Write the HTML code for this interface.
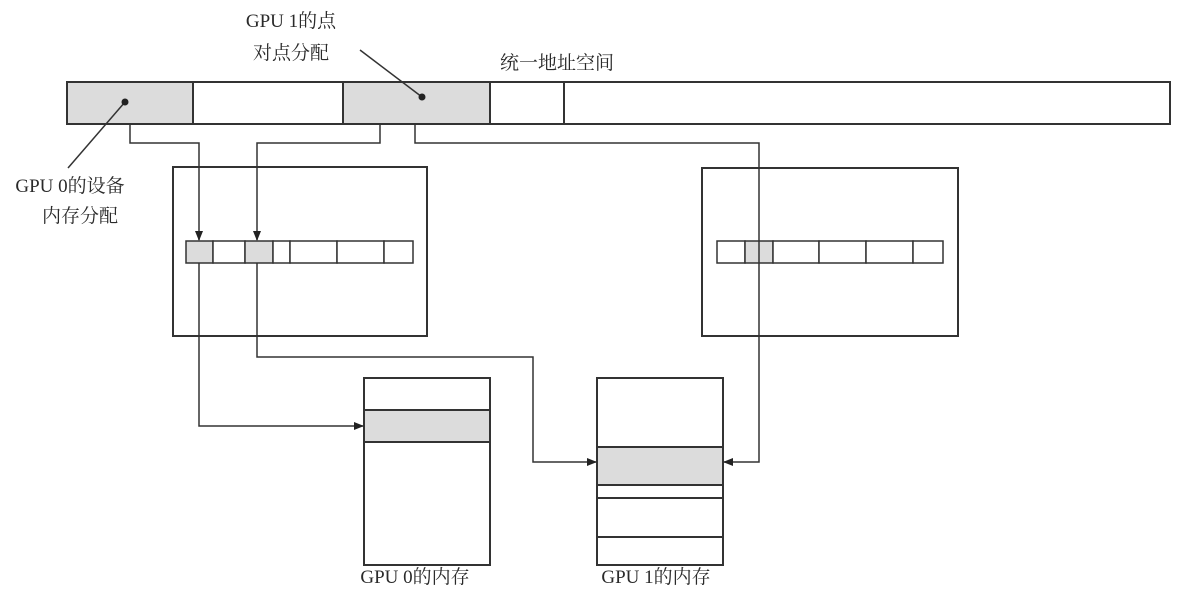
<!DOCTYPE html>
<html><head><meta charset="utf-8"><style>
body{margin:0;background:#fff;}
svg{display:block;}
text{font-family:"Liberation Serif","Noto Serif CJK SC",serif;font-size:19px;fill:#2a2a2a;}
</style></head><body>
<svg width="1178" height="589" viewBox="0 0 1178 589" xmlns="http://www.w3.org/2000/svg">
<defs>
<marker id="a" markerWidth="10" markerHeight="8" refX="9" refY="4" orient="auto" markerUnits="userSpaceOnUse">
<path d="M0,0 L10,4 L0,8 Z" fill="#222"/></marker>
</defs>
<g stroke="#333" stroke-width="2" fill="none">
<rect x="67" y="82" width="126" height="42" fill="#dcdcdc"/>
<rect x="193" y="82" width="150" height="42" fill="#fff"/>
<rect x="343" y="82" width="147" height="42" fill="#dcdcdc"/>
<rect x="490" y="82" width="74" height="42" fill="#fff"/>
<rect x="564" y="82" width="606" height="42" fill="#fff"/>
<line x1="125" y1="102" x2="68" y2="168" stroke-width="1.5"/>
<line x1="422" y1="97" x2="360" y2="50" stroke-width="1.5"/>
<rect x="173" y="167" width="254" height="169"/>
<rect x="186" y="241" width="27" height="22" fill="#dcdcdc" stroke-width="1.5"/>
<rect x="213" y="241" width="32" height="22" fill="#fff" stroke-width="1.5"/>
<rect x="245" y="241" width="28" height="22" fill="#dcdcdc" stroke-width="1.5"/>
<rect x="273" y="241" width="17" height="22" fill="#fff" stroke-width="1.5"/>
<rect x="290" y="241" width="47" height="22" fill="#fff" stroke-width="1.5"/>
<rect x="337" y="241" width="47" height="22" fill="#fff" stroke-width="1.5"/>
<rect x="384" y="241" width="29" height="22" fill="#fff" stroke-width="1.5"/>
<rect x="702" y="168" width="256" height="168"/>
<rect x="717" y="241" width="28" height="22" fill="#fff" stroke-width="1.5"/>
<rect x="745" y="241" width="28" height="22" fill="#dcdcdc" stroke-width="1.5"/>
<rect x="773" y="241" width="46" height="22" fill="#fff" stroke-width="1.5"/>
<rect x="819" y="241" width="47" height="22" fill="#fff" stroke-width="1.5"/>
<rect x="866" y="241" width="47" height="22" fill="#fff" stroke-width="1.5"/>
<rect x="913" y="241" width="30" height="22" fill="#fff" stroke-width="1.5"/>
<rect x="364" y="378" width="126" height="187"/>
<rect x="364" y="410" width="126" height="32" fill="#dcdcdc"/>
<rect x="597" y="378" width="126" height="187"/>
<rect x="597" y="447" width="126" height="38" fill="#dcdcdc"/>
<line x1="597" y1="498" x2="723" y2="498"/>
<line x1="597" y1="537" x2="723" y2="537"/>
</g>
<g stroke="#333" stroke-width="1.5" fill="none">
<polyline points="130,124 130,143 199,143 199,240" marker-end="url(#a)"/>
<polyline points="380,124 380,143 257,143 257,240" marker-end="url(#a)"/>
<polyline points="415,124 415,143 759,143 759,462 724,462" marker-end="url(#a)"/>
<polyline points="199,263 199,426 363,426" marker-end="url(#a)"/>
<polyline points="257,263 257,357 533,357 533,462 596,462" marker-end="url(#a)"/>
</g>
<circle cx="125" cy="102" r="3.5" fill="#222"/>
<circle cx="422" cy="97" r="3.5" fill="#222"/>
<text x="291" y="27" text-anchor="middle">GPU 1的点</text>
<text x="291" y="59" text-anchor="middle">对点分配</text>
<text x="500" y="69">统一地址空间</text>
<text x="70" y="192" text-anchor="middle">GPU 0的设备</text>
<text x="80" y="222" text-anchor="middle">内存分配</text>
<text x="415" y="583" text-anchor="middle">GPU 0的内存</text>
<text x="656" y="583" text-anchor="middle">GPU 1的内存</text>
</svg>
</body></html>
